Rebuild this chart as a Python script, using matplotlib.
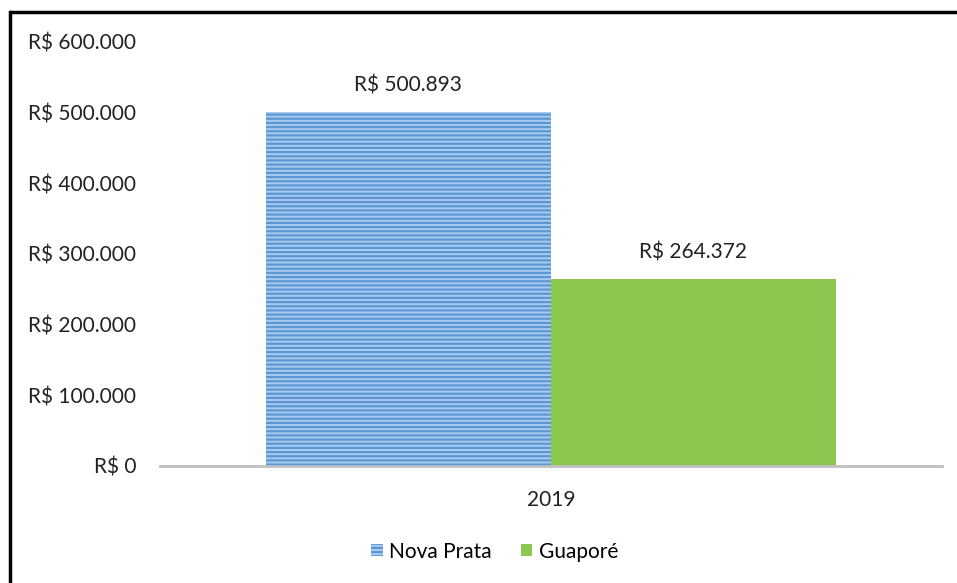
import matplotlib.pyplot as plt
import numpy as np
from matplotlib.lines import Line2D

categories = ["2019"]
series_names = ["Nova Prata", "Guaporé"]
nova_prata = [500893]
guapore = [264372]
yticks = [0, 100000, 200000, 300000, 400000, 500000, 600000]


def brl(v):
    return "R$ " + f"{v:,.0f}".replace(",", ".")


plt.rcParams['font.family'] = ['Lato', 'DejaVu Sans']
plt.rcParams['hatch.linewidth'] = 1.6

fig = plt.figure(figsize=(9.57, 5.83), dpi=100)
ax = fig.add_axes([0.167, 0.2007, 0.817, 0.7273])

x = np.arange(len(categories))
w = 0.3645
b1 = ax.bar(x - w / 2, nova_prata, w, color="#aacbee", edgecolor="#5b97d4",
            hatch="----", linewidth=0, label=series_names[0])
b2 = ax.bar(x + w / 2, guapore, w, color="#8cc84f", linewidth=0,
            label=series_names[1])

for bars, vals in ((b1, nova_prata), (b2, guapore)):
    for r, v in zip(bars, vals):
        ax.text(r.get_x() + r.get_width() / 2, v + 24000, brl(v),
                ha="center", va="bottom", fontsize=15, color="#222222")

ax.set_xlim(-0.5, 0.5)
ax.set_ylim(0, 600000)
ax.set_yticks(yticks)
ax.set_yticklabels([brl(v) for v in yticks], fontsize=15, color="#222222")
ax.set_xticks(x)
ax.set_xticklabels(categories, fontsize=15, color="#222222")
ax.tick_params(length=0)
ax.tick_params(axis="y", pad=17)
ax.tick_params(axis="x", pad=17)
for s in ("top", "right", "left"):
    ax.spines[s].set_visible(False)
ax.spines["bottom"].set_color("#bfbfbf")
ax.spines["bottom"].set_linewidth(2)

leg = fig.legend(loc="center", bbox_to_anchor=(0.517, 0.054), ncol=2,
                 frameon=False, fontsize=15, handlelength=0.55,
                 handleheight=0.55, handletextpad=0.3, columnspacing=1.4)

# outer frame (left and top edges only visible)
fig.add_artist(Line2D([0.0105, 0.0105], [0, 0.979], transform=fig.transFigure,
                      color="black", linewidth=2.5))
fig.add_artist(Line2D([0.0105, 1.0], [0.979, 0.979], transform=fig.transFigure,
                      color="black", linewidth=2.5, solid_capstyle="butt"))

fig.savefig("out.png", dpi=100)
